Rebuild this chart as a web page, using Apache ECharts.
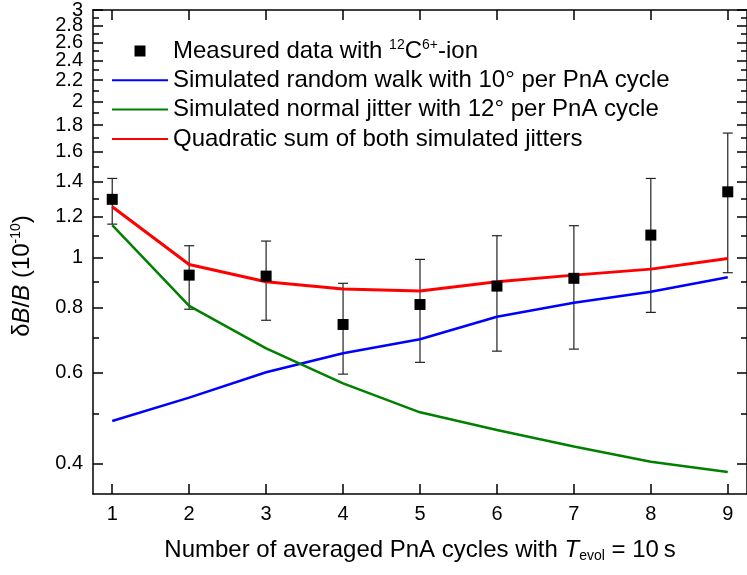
<!DOCTYPE html>
<html>
<head>
<meta charset="utf-8">
<script src="https://cdn.jsdelivr.net/npm/echarts@6/dist/echarts.min.js"></script>
<style>
  html, body { margin: 0; padding: 0; background: #fff; }
  #chart { width: 747px; height: 575px; }
</style>
</head>
<body>
<div id="chart"></div>
<script>
// Number of averaged PnA cycles
const cycles = [1, 2, 3, 4, 5, 6, 7, 8, 9];

// Measured relative field jitter δB/B (units of 1e-10) with error range
const measured = [1.295, 0.925, 0.921, 0.743, 0.812, 0.881, 0.912, 1.105, 1.339];
const errLow   = [1.160, 0.795, 0.757, 0.596, 0.628, 0.660, 0.666, 0.784, 0.935];
const errHigh  = [1.421, 1.054, 1.076, 0.892, 0.992, 1.102, 1.152, 1.421, 1.738];

// Simulated curves
const randomWalk   = [0.484, 0.537, 0.601, 0.654, 0.696, 0.769, 0.818, 0.859, 0.916];
const normalJitter = [1.155, 0.807, 0.668, 0.572, 0.503, 0.465, 0.432, 0.404, 0.386];
const quadSum      = [1.253, 0.970, 0.898, 0.870, 0.862, 0.898, 0.925, 0.950, 0.996];

// Axis ticks
const xTicks = [1, 2, 3, 4, 5, 6, 7, 8, 9];
const yMajorTicks = [0.4, 0.6, 0.8, 1, 1.2, 1.4, 1.6, 1.8, 2, 2.2, 2.4, 2.6, 2.8, 3];
const yMinorTicks = [0.5, 0.7, 0.9, 1.1, 1.3, 1.5, 1.7, 1.9, 2.1, 2.3, 2.5, 2.7, 2.9];
// tick labels are split over two overlaid axes so that the tightly packed
// upper labels are never thinned out
const yLabelsA = [0.4, 0.8, 1.2, 1.6, 2, 2.4, 2.8];
const yLabelsB = [0.6, 1, 1.4, 1.8, 2.2, 2.6, 3];

const NAME_MEAS = 'Measured data with 12C6+-ion';
const NAME_RW = 'Simulated random walk with 10° per PnA cycle';
const NAME_NJ = 'Simulated normal jitter with 12° per PnA cycle';
const NAME_QS = 'Quadratic sum of both simulated jitters';

const FONT = '"Liberation Sans", Arial, Helvetica, sans-serif';
const Y_MIN = 0.35, Y_MAX = 3.002;
const X_MIN = 0.75, X_MAX = 9.25;

const axisLine = { show: true, lineStyle: { color: '#000', width: 1.5 } };

function yAxisDef(position, ticks, len, labels, withLine) {
  return {
    type: 'log', logBase: 10, min: Y_MIN, max: Y_MAX, position: position,
    axisLine: withLine ? axisLine : { show: false },
    axisTick: ticks ? { show: true, inside: true, length: len, customValues: ticks,
                lineStyle: { color: '#000', width: 1.5 } } : { show: false },
    axisLabel: labels ? {
      show: true, customValues: labels, margin: 10,
      showMaxLabel: true, showMinLabel: true, hideOverlap: false,
      fontFamily: FONT, fontSize: 20, lineHeight: 12, color: '#000',
      formatter: v => String(Number(Number(v).toFixed(2)))
    } : { show: false },
    minorTick: { show: false },
    splitLine: { show: false }
  };
}

const chart = echarts.init(document.getElementById('chart'), null, { renderer: 'canvas' });

const yMain = yAxisDef('left', yMajorTicks, 10, yLabelsA, true);
yMain.name = '{n|δ}{i|B}{n|/}{i|B}{n| (10}{sup|-10}{n|)}';
yMain.nameLocation = 'middle';
yMain.nameGap = 58;
yMain.nameTextStyle = {
  fontFamily: FONT, fontSize: 24, color: '#000', padding: [0, 48, 0, 0],
  rich: {
    n: { fontFamily: FONT, fontSize: 24, color: '#000', lineHeight: 26 },
    i: { fontFamily: FONT, fontSize: 24, color: '#000', fontStyle: 'italic', lineHeight: 26 },
    sup: { fontFamily: FONT, fontSize: 14, color: '#000', lineHeight: 14, verticalAlign: 'top' }
  }
};

const hiddenSymbol = { opacity: 0 };

const option = {
  animation: false,
  backgroundColor: '#fff',
  grid: { left: 93, top: 10, right: -5, bottom: 81, containLabel: false },
  legend: {
    orient: 'vertical', left: 106, top: 33,
    itemWidth: 56, itemHeight: 11, itemGap: 3.3,
    symbolKeepAspect: true,
    data: [
      { name: NAME_MEAS, icon: 'path://M0,0L10,0L10,10L0,10Z' },
      { name: NAME_RW, itemStyle: hiddenSymbol },
      { name: NAME_NJ, itemStyle: hiddenSymbol },
      { name: NAME_QS, itemStyle: hiddenSymbol }
    ],
    formatter: name => name === NAME_MEAS
      ? 'Measured data with {sup|12}C{sup|6+}-ion' : name,
    textStyle: {
      fontFamily: FONT, fontSize: 24, color: '#000', lineHeight: 26,
      rich: {
        sup: { fontFamily: FONT, fontSize: 14, color: '#000', lineHeight: 13, verticalAlign: 'top' }
      }
    }
  },
  xAxis: [
    {
      type: 'value', min: X_MIN, max: X_MAX, position: 'bottom',
      axisLine: axisLine,
      axisTick: { show: true, inside: true, length: 10, customValues: xTicks,
                  lineStyle: { color: '#000', width: 1.5 } },
      axisLabel: { show: true, customValues: xTicks, margin: 10,
                   fontFamily: FONT, fontSize: 20, color: '#000' },
      splitLine: { show: false },
      name: 'Number of averaged PnA cycles with {i|T}{sub|evol} = 10\u2009s',
      nameLocation: 'middle', nameGap: 43,
      nameTextStyle: {
        fontFamily: FONT, fontSize: 24, color: '#000',
        rich: {
          i: { fontFamily: FONT, fontSize: 24, color: '#000', fontStyle: 'italic', lineHeight: 26 },
          sub: { fontFamily: FONT, fontSize: 14, color: '#000', lineHeight: 14, verticalAlign: 'bottom' }
        }
      }
    },
    {
      type: 'value', min: X_MIN, max: X_MAX, position: 'top',
      axisLine: axisLine,
      axisTick: { show: true, inside: true, length: 10, customValues: xTicks,
                  lineStyle: { color: '#000', width: 1.5 } },
      axisLabel: { show: false },
      splitLine: { show: false }
    }
  ],
  yAxis: [
    yMain,
    yAxisDef('left', yMinorTicks, 6, null, false),
    yAxisDef('left', null, 0, yLabelsB, false),
    yAxisDef('right', yMajorTicks, 10, null, true),
    yAxisDef('right', yMinorTicks, 6, null, false)
  ],
  series: [
    {
      name: 'error',
      type: 'custom',
      xAxisIndex: 0, yAxisIndex: 0,
      data: cycles.map((c, i) => [c, errLow[i], errHigh[i]]),
      encode: { x: 0, y: [1, 2] },
      renderItem: function (params, api) {
        const x = api.value(0);
        const lo = api.coord([x, api.value(1)]);
        const hi = api.coord([x, api.value(2)]);
        const hw = 5;
        const style = { stroke: '#222', lineWidth: 1.2 };
        return {
          type: 'group',
          children: [
            { type: 'line', shape: { x1: lo[0], y1: lo[1], x2: hi[0], y2: hi[1] }, style: style },
            { type: 'line', shape: { x1: hi[0] - hw, y1: hi[1], x2: hi[0] + hw, y2: hi[1] }, style: style },
            { type: 'line', shape: { x1: lo[0] - hw, y1: lo[1], x2: lo[0] + hw, y2: lo[1] }, style: style }
          ]
        };
      },
      silent: true, z: 2
    },
    {
      name: NAME_RW, type: 'line', xAxisIndex: 0, yAxisIndex: 0,
      data: cycles.map((c, i) => [c, randomWalk[i]]),
      symbol: 'none', color: '#0000ff',
      lineStyle: { color: '#0000ff', width: 2.5 }, z: 3
    },
    {
      name: NAME_NJ, type: 'line', xAxisIndex: 0, yAxisIndex: 0,
      data: cycles.map((c, i) => [c, normalJitter[i]]),
      symbol: 'none', color: '#008000',
      lineStyle: { color: '#008000', width: 2.5 }, z: 3
    },
    {
      name: NAME_QS, type: 'line', xAxisIndex: 0, yAxisIndex: 0,
      data: cycles.map((c, i) => [c, quadSum[i]]),
      symbol: 'none', color: '#ff0000',
      lineStyle: { color: '#ff0000', width: 3 }, z: 3
    },
    {
      name: NAME_MEAS, type: 'scatter', xAxisIndex: 0, yAxisIndex: 0,
      data: cycles.map((c, i) => [c, measured[i]]),
      symbol: 'rect', symbolSize: 11,
      itemStyle: { color: '#000', opacity: 1 }, z: 4
    }
  ]
};

chart.setOption(option);
</script>
</body>
</html>
